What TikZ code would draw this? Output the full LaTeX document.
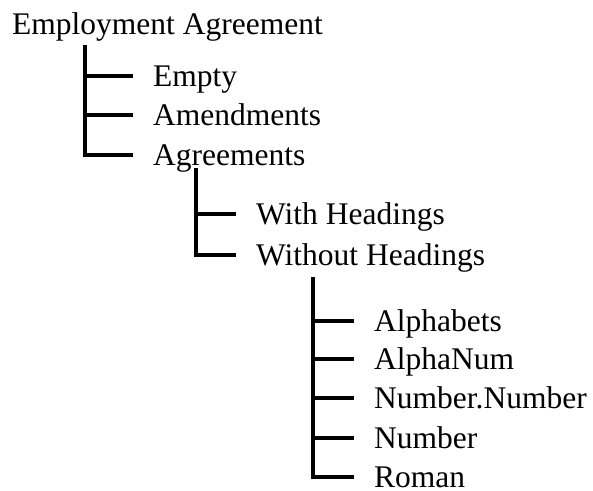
\documentclass[tikz,border=0pt]{standalone}
\usepackage{fontspec}
\setmainfont{Liberation Serif}
\begin{document}
\begin{tikzpicture}[x=1pt,y=-1pt,
  lbl/.style={anchor=west,inner sep=0pt,text height=20.6pt,text depth=0pt,font=\fontsize{31.5}{37}\selectfont},
  branch/.style={line width=3.6pt,line join=miter,line cap=butt,shorten >=20pt}]
\useasboundingbox (0,0) rectangle (593,490);
% root
\node[lbl] (root) at (12,24) {Employment Agreement};
% level 1
\coordinate (t1) at (85,45);
\node[lbl] (empty) at (153,76) {Empty};
\node[lbl] (amend) at (153,115) {Amendments};
\node[lbl] (agree) at (153,155) {Agreements};
\draw[branch] (t1) |- (agree);
\draw[branch] (t1 |- empty) -- (empty);
\draw[branch] (t1 |- amend) -- (amend);
% level 2
\coordinate (t2) at (196,168);
\node[lbl] (withh) at (256,214) {With Headings};
\node[lbl] (without) at (256,255) {Without Headings};
\draw[branch] (t2) |- (without);
\draw[branch] (t2 |- withh) -- (withh);
% level 3
\coordinate (t3) at (313,277);
\node[lbl] (alpha) at (374,321) {Alphabets};
\node[lbl] (alnum) at (374,359) {AlphaNum};
\node[lbl] (numnum) at (374,398) {Number.Number};
\node[lbl] (num) at (374,438) {Number};
\node[lbl] (roman) at (374,477) {Roman};
\draw[branch] (t3) |- (roman);
\draw[branch] (t3 |- alpha) -- (alpha);
\draw[branch] (t3 |- alnum) -- (alnum);
\draw[branch] (t3 |- numnum) -- (numnum);
\draw[branch] (t3 |- num) -- (num);
\end{tikzpicture}
\end{document}
